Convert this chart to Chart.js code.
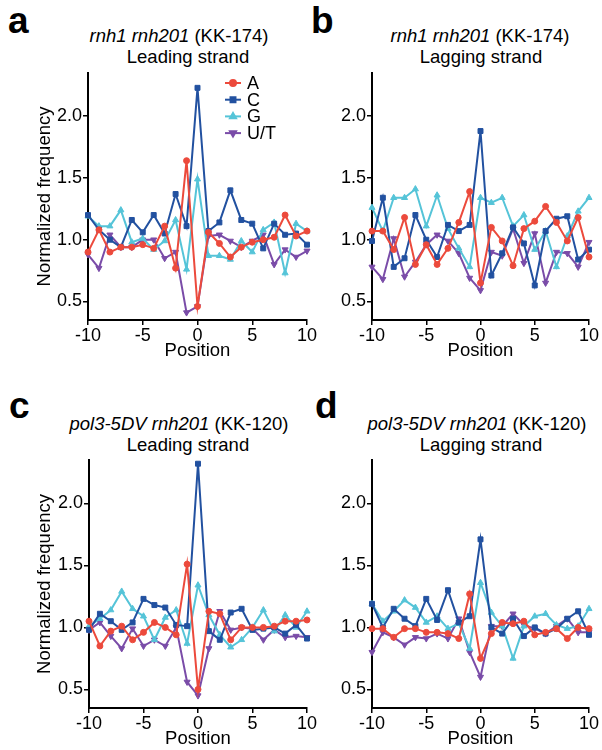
<!DOCTYPE html>
<html><head><meta charset="utf-8">
<script src="https://cdn.jsdelivr.net/npm/chart.js@4/dist/chart.umd.min.js"></script>
<style>
html,body{margin:0;padding:0;background:#fff;overflow:hidden;width:602px;height:750px;}
body{position:relative;font-family:"Liberation Sans",Arial,sans-serif;color:#000;}
.box{position:absolute;}
.letter{position:absolute;font-weight:bold;font-size:37px;line-height:37px;}
.t{position:absolute;font-size:18.5px;line-height:21px;white-space:nowrap;transform:translate(-50%,-50%);}
</style></head><body>
<div class="letter" style="left:8px;top:2px">a</div>
<div class="letter" style="left:311px;top:2px">b</div>
<div class="letter" style="left:9px;top:387px">c</div>
<div class="letter" style="left:315px;top:387px">d</div>

<div class="t" style="left:179px;top:35px"><i>rnh1 rnh201</i> (KK-174)</div>
<div class="t" style="left:188px;top:56px">Leading strand</div>
<div class="t" style="left:480px;top:35px"><i>rnh1 rnh201</i> (KK-174)</div>
<div class="t" style="left:481px;top:56px">Lagging strand</div>
<div class="t" style="left:179px;top:423px"><i>pol3-5DV rnh201</i> (KK-120)</div>
<div class="t" style="left:188px;top:444px">Leading strand</div>
<div class="t" style="left:477px;top:423px"><i>pol3-5DV rnh201</i> (KK-120)</div>
<div class="t" style="left:481px;top:444px">Lagging strand</div>

<div class="box" style="left:34px;top:60px"><canvas id="ca" width="286" height="302"></canvas></div>
<div class="box" style="left:325px;top:60px"><canvas id="cb" width="277" height="302"></canvas></div>
<div class="box" style="left:34px;top:447px"><canvas id="cc" width="286" height="303"></canvas></div>
<div class="box" style="left:325px;top:447px"><canvas id="cd" width="277" height="303"></canvas></div>

<script>
const positions = [-10,-9,-8,-7,-6,-5,-4,-3,-2,-1,0,1,2,3,4,5,6,7,8,9,10];
const seriesNames = ['A','C','G','U/T'];
const yTicks = [0.5,1.0,1.5,2.0];
const xTicks = [-10,-5,0,5,10];

// Panel a: rnh1 rnh201 (KK-174), leading strand
const aA = [0.90,1.08,0.90,0.94,0.94,0.96,0.93,1.11,0.77,1.64,0.46,1.06,0.97,0.86,0.94,0.98,1.00,1.02,1.20,1.03,1.07];
const aC = [1.20,1.08,1.00,0.94,1.16,1.06,1.20,1.05,1.37,1.11,2.23,1.07,1.14,1.40,1.16,1.13,0.93,1.13,1.04,1.05,0.96];
const aG = [1.19,1.11,1.11,1.24,0.98,1.01,0.92,0.99,1.16,0.76,1.49,0.87,0.87,0.84,0.99,0.90,1.08,1.14,0.73,1.13,1.07];
const aT = [0.88,0.77,1.04,0.94,0.94,1.00,1.00,0.85,0.90,0.41,0.46,1.03,1.04,0.99,0.94,0.99,1.04,0.80,0.92,0.86,0.91];
// Panel b: rnh1 rnh201 (KK-174), lagging strand
const bA = [1.07,1.07,0.92,1.18,0.80,0.96,0.80,0.93,1.14,1.39,0.65,1.10,0.99,0.79,1.09,1.15,1.27,1.14,0.99,1.18,0.86];
const bC = [0.99,1.34,0.78,0.85,1.20,1.00,0.86,1.12,1.07,1.12,1.88,0.71,0.89,1.10,0.97,0.63,1.07,1.17,1.19,0.84,0.92];
const bG = [1.26,1.07,1.34,1.34,1.41,1.11,1.36,1.09,0.93,0.78,1.34,1.30,1.34,1.11,1.20,0.92,1.07,0.78,1.03,1.23,1.34];
const bT = [0.78,0.68,1.01,0.70,0.82,0.96,1.04,0.99,0.89,0.69,0.59,0.90,0.87,1.09,0.81,1.05,0.65,0.90,0.89,0.78,0.98];
// Panel c: pol3-5DV rnh201 (KK-120), leading strand
const cA = [1.05,0.85,0.97,1.01,0.90,0.96,1.04,1.00,0.94,1.51,0.50,1.13,1.11,0.90,1.00,1.00,1.00,1.01,1.05,1.05,1.06];
const cC = [0.98,1.11,1.05,0.98,1.04,1.23,1.18,1.16,1.02,1.01,2.32,0.97,0.90,1.12,1.15,0.98,0.99,1.00,0.95,1.02,0.91];
const cG = [1.01,1.07,1.14,1.29,1.15,1.09,0.90,1.08,1.14,0.87,1.34,1.10,0.94,0.84,0.90,1.00,1.14,0.97,1.10,1.00,1.13];
const cT = [0.98,1.04,0.93,0.83,0.99,0.85,0.90,0.85,1.00,0.56,0.45,0.83,1.13,0.98,1.00,0.99,0.90,0.98,0.92,0.93,0.92];
// Panel d: pol3-5DV rnh201 (KK-120), lagging strand
const dA = [0.99,0.99,0.92,0.99,0.99,0.96,0.96,0.95,0.91,1.27,0.75,0.95,1.04,1.03,1.05,0.94,0.96,0.99,0.91,1.00,0.99];
const dC = [1.19,1.00,1.15,1.07,1.01,1.23,1.06,1.30,1.04,1.09,1.71,1.00,0.95,1.07,0.93,1.00,0.95,0.99,1.07,1.13,0.94];
const dG = [1.19,1.05,1.13,1.22,1.16,1.04,1.09,0.99,1.03,0.83,1.36,1.12,1.01,0.75,1.01,1.09,1.11,1.02,0.99,1.01,1.15];
const dT = [0.80,0.96,0.92,0.86,0.92,0.91,0.95,0.91,1.07,0.80,0.60,1.01,1.01,1.11,1.02,0.99,0.95,1.01,1.07,0.96,0.96];

const colors = ['#EC4A3C','#2251A0','#55C4D8','#7A4CA8'];
const pStyles = ['circle','rect','triangle','triangle'];
const pRot = [0,0,0,180];
const pRad = [3,3.5,3.5,3.5];
const FONT = '"Liberation Sans", Arial, sans-serif';

const legendPlugin = {
  id:'insideLegend',
  afterDatasetsDraw(chart, args, opts){
    if(!opts || !opts.show) return;
    const ctx = chart.ctx;
    ctx.save();
    chart.data.datasets.forEach((ds,i)=>{
      const y = opts.y + i*opts.gap;
      ctx.strokeStyle = ds.borderColor; ctx.lineWidth = 2;
      ctx.beginPath(); ctx.moveTo(opts.x, y); ctx.lineTo(opts.x+16, y); ctx.stroke();
      ctx.fillStyle = ds.borderColor;
      Chart.helpers.drawPoint(ctx, {pointStyle: ds.pointStyle, rotation: ds.pointRotation, radius: ds.pointRadius, borderWidth: 1}, opts.x+8, y);
      ctx.fillStyle = '#000';
      ctx.font = '18px ' + FONT;
      ctx.textBaseline = 'middle'; ctx.textAlign = 'left';
      ctx.fillText(ds.label, opts.x+22, y+1);
    });
    ctx.restore();
  }
};

function makeChart(id, series, yTitle, yWidth, legend){
  const datasets = series.map((vals,i)=>({
    label: seriesNames[i],
    data: positions.map((p,k)=>({x:p, y:vals[k]})),
    borderColor: colors[i], backgroundColor: colors[i],
    pointBackgroundColor: colors[i], pointBorderColor: colors[i],
    pointStyle: pStyles[i], pointRotation: pRot[i], pointRadius: pRad[i],
    borderWidth: 2, tension: 0, pointBorderWidth: 1, clip: false
  }));
  return new Chart(document.getElementById(id), {
    type:'line',
    data:{datasets},
    plugins:[legendPlugin],
    options:{
      responsive:false, animation:false, devicePixelRatio:1,
      layout:{padding:{top:13,right:13,left:0,bottom:0}, autoPadding:false},
      plugins:{legend:{display:false}, tooltip:{enabled:false},
        insideLegend: legend ? {show:true, x:legend.x, y:legend.y, gap:16.7} : {show:false}},
      scales:{
        x:{type:'linear', min:-10, max:10,
          afterBuildTicks: s => { s.ticks = xTicks.map(v=>({value:v})); },
          afterFit: s => { s.height = 42; },
          ticks:{color:'#000', font:{size:18, family:FONT}, padding:0, maxRotation:0, callback:v=>String(v)},
          grid:{display:true, drawOnChartArea:false, drawTicks:true, tickLength:5, color:'#000', lineWidth:1.5},
          border:{display:true, color:'#000', width:2},
          title:{display:true, text:'Position', color:'#000', font:{size:18.5, family:FONT}, padding:{top:0,bottom:0}}
        },
        y:{type:'linear', min:0.35, max:2.35,
          afterBuildTicks: s => { s.ticks = yTicks.map(v=>({value:v})); },
          afterFit: s => { s.width = yWidth; },
          ticks:{color:'#000', font:{size:18, family:FONT}, padding:1, callback:v=>Number(v).toFixed(1)},
          grid:{display:true, drawOnChartArea:false, drawTicks:true, tickLength:5, color:'#000', lineWidth:1.5},
          border:{display:true, color:'#000', width:2},
          title:{display:yTitle, text:'Normalized frequency', color:'#000', font:{size:18.5, family:FONT}, padding:{top:0,bottom:0}}
        }
      }
    }
  });
}

makeChart('ca', [aA,aC,aG,aT], true, 54, {x:191, y:23});
makeChart('cb', [bA,bC,bG,bT], false, 47, null);
makeChart('cc', [cA,cC,cG,cT], true, 55, null);
makeChart('cd', [dA,dC,dG,dT], false, 47, null);
</script>
</body></html>
